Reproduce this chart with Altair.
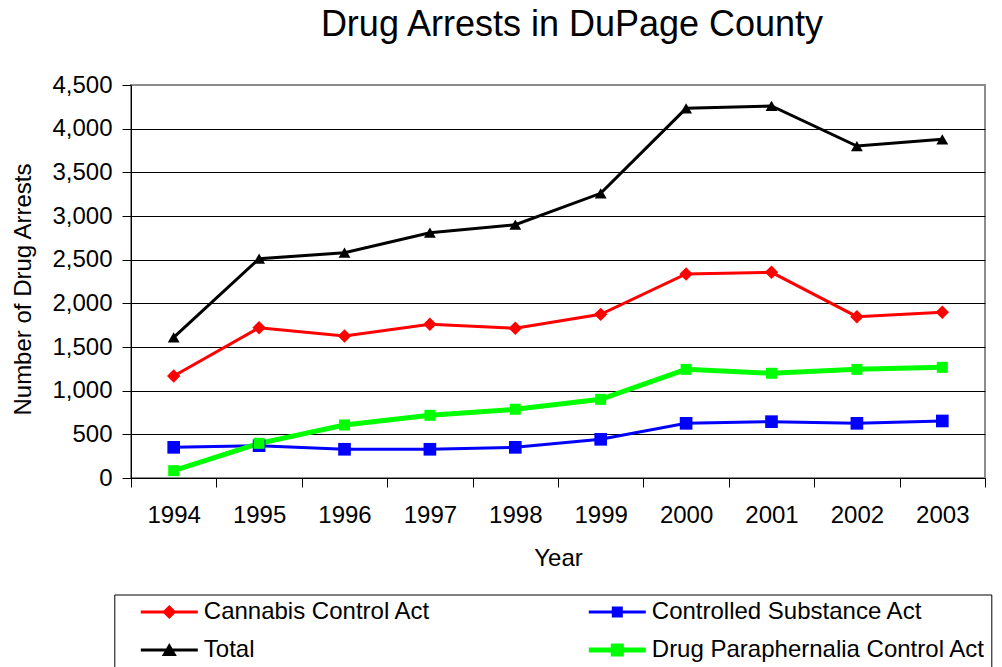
import altair as alt
import pandas as pd

# Annual drug arrests in DuPage County, by statute
years = [1994, 1995, 1996, 1997, 1998, 1999, 2000, 2001, 2002, 2003]
cannabis = [1168, 1721, 1626, 1760, 1714, 1874, 2336, 2355, 1847, 1897]
controlled = [351, 370, 329, 329, 351, 443, 626, 645, 626, 653]
total = [1611, 2511, 2580, 2809, 2900, 3260, 4233, 4260, 3801, 3878]
paraphernalia = [84, 397, 607, 718, 787, 901, 1244, 1199, 1244, 1267]

series_names = [
    "Cannabis Control Act",
    "Controlled Substance Act",
    "Total",
    "Drug Paraphernalia Control Act",
]
series_values = [cannabis, controlled, total, paraphernalia]
series_colors = ["#ff0000", "#0000ff", "#000000", "#00ff00"]
marker_shapes = ["diamond", "square", "triangle-up", "square"]
marker_sizes = [180, 121, 225, 169]
y_ticks = [0, 500, 1000, 1500, 2000, 2500, 3000, 3500, 4000, 4500]
thick_series = "Drug Paraphernalia Control Act"

# Legend glyphs: a line segment with the series marker on it.
# Symbol radius is 12 px; the paths run to the right of the unit box so the
# entry stays one text line tall while the glyph is 57 px wide.
legend_glyphs = [
    "M-1,0 M0.75,-0.125 H5.5 V0.125 H0.75 Z M3.125,-0.5833 L3.7083,0 L3.125,0.5833 L2.5417,0 Z",
    "M-1,0 M0.75,-0.125 H5.5 V0.125 H0.75 Z M2.6667,-0.4583 H3.5833 V0.4583 H2.6667 Z",
    "M-1,0 M0.75,-0.125 H5.5 V0.125 H0.75 Z M3.125,-0.5833 L3.75,0.5 L2.5,0.5 Z",
    "M-1,0 M0.75,-0.2083 H5.5 V0.2083 H0.75 Z M2.5833,-0.5417 H3.6667 V0.5417 H2.5833 Z",
]

rows = []
for name, vals in zip(series_names, series_values):
    for yr, v in zip(years, vals):
        rows.append({"Year": str(yr), "Arrests": v, "Series": name})
df = pd.DataFrame(rows)

FONT = "Liberation Sans"

x_enc = alt.X(
    "Year:O",
    scale=alt.Scale(type="band", paddingInner=0, paddingOuter=0),
    axis=alt.Axis(
        title="Year",
        labelAngle=0,
        labelFontSize=24,
        labelColor="black",
        labelBaseline="alphabetic",
        labelPadding=35,
        tickSize=9,
        tickColor="black",
        tickBand="extent",
        domainColor="black",
        titleFontSize=24,
        titleFontWeight="normal",
        titleColor="black",
        titleBaseline="alphabetic",
        titleY=87,
        grid=False,
    ),
)
y_enc = alt.Y(
    "Arrests:Q",
    scale=alt.Scale(domain=[0, 4500], nice=False),
    axis=alt.Axis(
        title="Number of Drug Arrests",
        values=y_ticks,
        format=",.0f",
        labelFontSize=24,
        labelColor="black",
        labelPadding=10,
        tickSize=9,
        tickColor="black",
        domainColor="black",
        gridColor={"condition": {"test": "datum.value >= 4500", "value": "#8c8c8c"}, "value": "black"},
        gridWidth=1,
        titleFontSize=24,
        titleFontWeight="normal",
        titleColor="black",
        titleAngle=270,
        titleBaseline="alphabetic",
        titleAlign="center",
        titleX=-101,
        titleY=204,
    ),
)

color_scale = alt.Scale(domain=series_names, range=series_colors)
line_color = alt.Color("Series:N", scale=color_scale, legend=None)

lines = (
    alt.Chart(df)
    .mark_line(strokeWidth=3)
    .encode(x=x_enc, y=y_enc, color=line_color)
    .transform_filter(alt.datum.Series != thick_series)
)

thick_line = (
    alt.Chart(df)
    .mark_line(strokeWidth=5)
    .encode(x=x_enc, y=y_enc, color=line_color)
    .transform_filter(alt.datum.Series == thick_series)
)

points = alt.Chart(df).mark_point(filled=True, opacity=1, strokeWidth=0).encode(
    x=x_enc,
    y=y_enc,
    color=line_color,
    shape=alt.Shape(
        "Series:N", scale=alt.Scale(domain=series_names, range=marker_shapes), legend=None
    ),
    size=alt.Size(
        "Series:N", scale=alt.Scale(domain=series_names, range=marker_sizes), legend=None
    ),
)

legend_style = alt.Legend(
    title=" ",
    titleOrient="bottom",
    titleFontSize=24,
    titlePadding=10,
    orient="none",
    direction="horizontal",
    legendX=-16.7,
    legendY=509.5,
    columns=2,
    columnPadding=137,
    rowPadding=14,
    padding=5.5,
    strokeColor="black",
    fillColor="white",
    symbolSize=576,
    symbolOpacity=1,
    symbolStrokeWidth=0,
    labelFontSize=24,
    labelFont=FONT,
    labelColor="black",
    labelOffset=60,
    labelLimit=500,
)

legend_layer = alt.Chart(df).mark_point(filled=True, opacity=0).encode(
    x=x_enc,
    y=y_enc,
    color=alt.Color("Series:N", scale=color_scale, legend=legend_style),
    shape=alt.Shape(
        "Series:N", scale=alt.Scale(domain=series_names, range=legend_glyphs), legend=legend_style
    ),
)

chart = (
    alt.layer(lines, thick_line, points, legend_layer)
    .resolve_scale(color="independent", shape="independent")
    .properties(
        width=854,
        height=393,
        title=alt.TitleParams(
            text="Drug Arrests in DuPage County",
            fontSize=36,
            font=FONT,
            fontWeight="normal",
            color="black",
            anchor="middle",
            dx=14,
            baseline="alphabetic",
            offset=1,
        ),
        autosize=alt.AutoSizeParams(type="none"),
        padding={"left": 131, "top": 85, "right": 17, "bottom": 189},
    )
    .configure(font=FONT)
    .configure_view(stroke="#8c8c8c", strokeWidth=2)
    .configure_axis(labelFont=FONT, titleFont=FONT)
)

chart.save("out.html", embed_options={"renderer": "svg", "actions": False})
